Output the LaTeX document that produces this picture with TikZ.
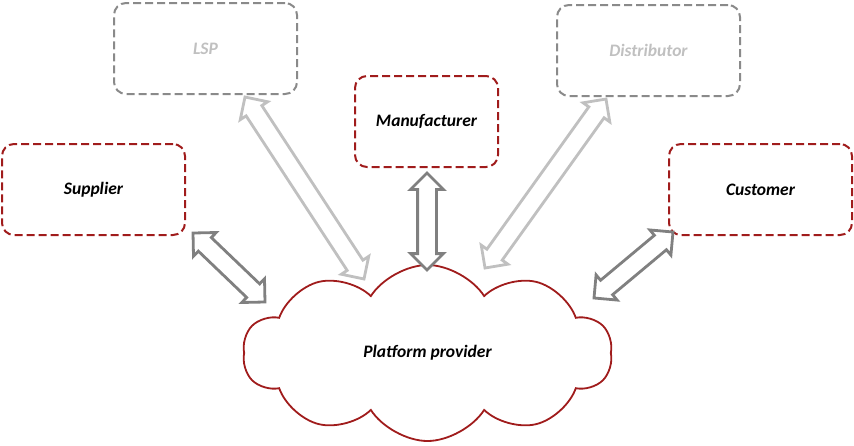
\documentclass[tikz,border=0pt]{standalone}
\usepackage{fontspec}
\setmainfont{Carlito}
\usetikzlibrary{shapes.arrows,shapes.symbols,calc}

\definecolor{darkred}{RGB}{160,28,28}
\definecolor{boxgray}{RGB}{138,138,138}
\definecolor{palegray}{RGB}{192,192,192}
\definecolor{arrowgray}{RGB}{128,128,128}

% hollow double arrow between two named points
\newcommand{\flowarrow}[3]{%
  \path let \p1=($(#2)-(#1)$), \n1={atan2(\y1,\x1)}, \n2={veclen(\x1,\y1)} in
    node[flow arrow, draw=#3, minimum height=\n2, rotate=\n1] at ($(#1)!0.5!(#2)$) {};}

\begin{document}
\begin{tikzpicture}[x=1pt,y=-1pt,
                    font=\fontsize{17.5}{20}\selectfont\bfseries\itshape,
                    party/.style={rectangle,rounded corners=12pt,draw=darkred,
                      line width=2pt,dash pattern=on 8pt off 4pt,
                      minimum width=183pt,minimum height=91pt,inner sep=0pt},
                    ghost/.style={party,draw=boxgray,text=palegray},
                    flow arrow/.style={double arrow,line width=2.8pt,fill=white,
                      inner xsep=0pt,inner ysep=8pt,double arrow head extend=7pt,
                      double arrow tip angle=90}
                   ]
   \useasboundingbox (0,0) rectangle (854,445);

   \node[party] (supplier) at (93.5,189.5) {Supplier};
   \node[ghost] (lsp) at (205.5,48.5) {LSP};
   \node[party,minimum width=143pt] (manufacturer) at (426.5,121.5) {Manufacturer};
   \node[ghost] (distributor) at (648.5,50.5) {Distributor};
   \node[party] (customer) at (760.5,189.5) {Customer};

   \node[cloud,cloud puffs=10,cloud puff arc=115,aspect=2.1,draw=darkred,
         line width=1.8pt,minimum width=369pt,minimum height=176pt,inner sep=0pt]
         (platform) at (427.5,353) {Platform provider};

   % arrow ends
   \coordinate (sup1) at (193,233);  \coordinate (sup2) at (265,302);
   \coordinate (lsp1) at (245,97);   \coordinate (lsp2) at (364,279);
   \coordinate (man1) at (427,173);  \coordinate (man2) at (427,270);
   \coordinate (dis1) at (606,99);   \coordinate (dis2) at (485,268);
   \coordinate (cus1) at (673,232);  \coordinate (cus2) at (594,298);

   \flowarrow{sup1}{sup2}{arrowgray}
   \flowarrow{lsp1}{lsp2}{palegray}
   \flowarrow{man1}{man2}{arrowgray}
   \flowarrow{dis1}{dis2}{palegray}
   \flowarrow{cus1}{cus2}{arrowgray}
\end{tikzpicture}
\end{document}
